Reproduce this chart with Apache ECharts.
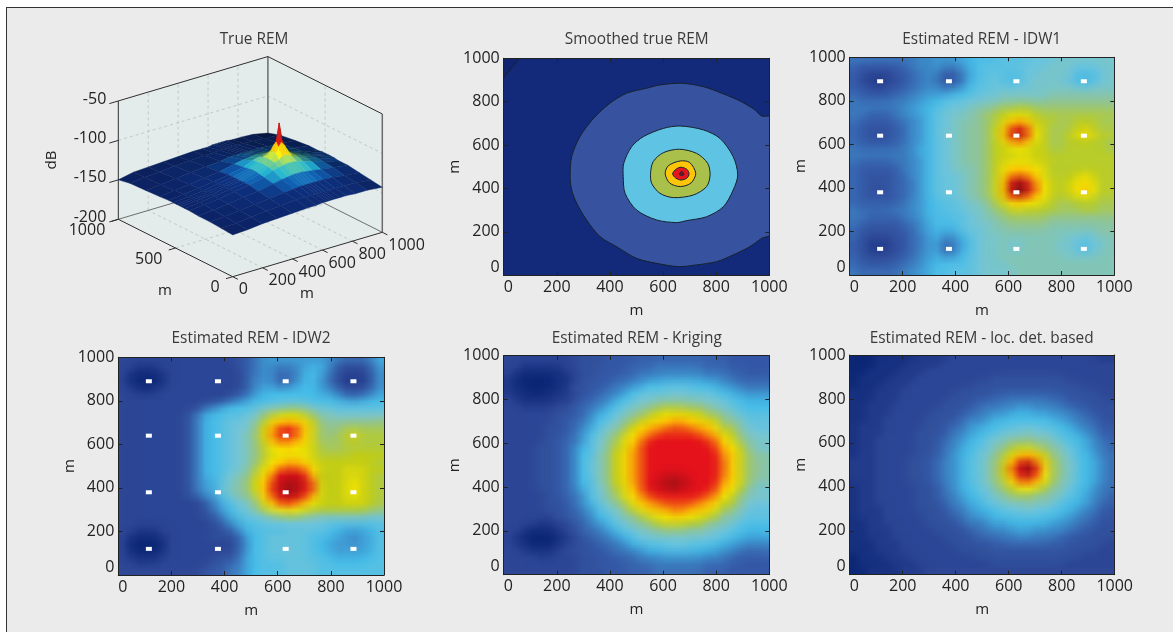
<!DOCTYPE html>
<html><head><meta charset="utf-8">
<style>
html,body{margin:0;padding:0;background:#fff;overflow:hidden}
#frame{position:absolute;left:6px;top:7px;width:1167px;height:625px;background:#ebebeb;border-top:1px solid #333;border-left:1px solid #333;box-sizing:border-box}
#c{position:absolute;left:0;top:0;width:1173px;height:632px}
.heat{position:absolute;width:32px;height:32px;transform-origin:0 0}
</style>
<script src="https://cdn.jsdelivr.net/npm/echarts@6/dist/echarts.min.js"></script>
</head><body><div id="frame"></div><div id="layers"></div><div id="c"></div>
<script>
// ---------- values ----------
var tickValues = [0, 200, 400, 600, 800, 1000];
var sensorX = [115, 375, 630, 885];
var sensorY = [120, 380, 640, 890];

// Map levels, one base-36 digit per cell, top row (y=1000) first, 32 x 32 cells
var idw1Rows = [
"66666666778889abbbccccdddeeeeeee","54444456778778abcccccdddeeedddee","432223456775469bcccccddeeeecccde","421012356763359bcdcbbdeeeedbabde",
"43212345677557accddcddeeeeedcdee","5433345678889abcddeeeeeeffffffff","6555566789abccddeeffffffgggggggg","666666789abcddeffghhiihhhhhhhhhh",
"665556789acdeefghijkkkjiiiiiiiii","654445678acdeffghikmnmkjjiijjjii","543334578acdefgghjlqsqlkiiijkjii","543234578aceefgghjmswsmkiijlnljj",
"543334578acdefgghjlprplkiijjkjji","655555679acdefgghjklmlkkiijjjjji","666666679acdefgghjkkllkkjjjjjjjj","655556678acdefgghjklllkkjjjjjjjj",
"544444678acdeffghjlnnnmljjjjjjjj","543334578acddefghjlpqpnljjjklkjj","543334568acddefghjmsvtpmkjklmljj","543234568acddefghjmuyvrmkjkmomjj",
"543334568acddefghjmsvtpmkjklmljj","544444578abccdefgiknonmljiijjjii","655556678abccdeefhiklkkjjiiijjii","665555678abbccdefghiiiiihhhhhhhh",
"6544445679bbbcdeefghhhhhgggggggg","5433334579aaacddeffgggggffffffgg","5322233568a88acdeeffffffffeedeff","43111235689669bdeefeeffffeedcdef",
"43101235689559bdeefeeffffeedbdef","5322234578a88acdeeffffffffeeeeff","5433345679abbbcdeeefffffffffffff","6555556789bbcccdeeeeffffffffffff"];

var idw2Rows = [
"333333333333334579aaaaaaa987778b","3322233333333345799889abb964446a","3211123333333335799778bcb8533359","3100013333333335899668bca7422249",
"32101233333333358aa88acca8533359","33222333333333469bccccccba85457a","3333333333333579bccddddcccba9abc","3333333333579bccdeffgggfeedddddd",
"3333333346abcddefhjkllkiggffffff","3333333347bcdeefgjmooonlihhhhhhi","3333333347bcdeffhlpstspmjiijjjjj","3333333347bcdefgimqtutpmjijkmkkk",
"3333333347bcdefgilpssrpmjjjklkkk","3333333347bcdefgiknoponmkjjkkkkk","3333333347bcdefgikmnnnnmkkkkllll","3333333347bcdefgiknoppomlllllllk",
"3333333347bcdefgjmorssromllmmmll","3333333347bcdfghknquvvuplllmmmlk","3333333347abdfhilosvwwvsmllmnmlk","3333333347abeghilotvyxvtmllmomlk",
"33333333469adfhikosvwwurmllmnmlk","333333333358bdfgimptutrnmllmmmlk","333333333347acefhknoponmllllllkj","3333333333458bdefgijkkjihhhhhhgg",
"33333333333469bddefffffffeeeeeee","332223333333469cddddeeeeedcbbbcd","321112333334446acdeeeeeddcba9abd","3100013333333359cdeeeeedcbaa9abd",
"3100013333333359cdeefeedcbaaaabd","321112333333446acdeeeeeddcbbbbcd","332223333334567acdddeeeeddccccdd","333333333345578acdddeeeedddddddd"];

var krigingRows = [
"33333333344455556666666666655555","33222223344455566677777766655555","32111112344555667788888877766555","2100001124455667899aaaaa99876666",
"2100001144556789accddddccba98777","211001123456789cdeeeffeeedcba999","3211112235678acdffggggggffedcbbb","332222335678acefghijjjiihgfedccc",
"33333344568acefhijlmmmlljihgeddd","33333345679cdfhikmnopponmlihgeee","3333344568adfgilnpqrssrqpnkjhfee","3333344579cegiknprsttttsrpmligff",
"3333345679dfhjmortuuuuuutsomjhgg","333344568bdfhkmpsuuuuuuuutqoligf","333344568cdgilnqsuuuuuuuuurpmjhh","333344568cegilnqsuuuuuuuuuspmjih",
"333344568cegilnqsuuuuuuuuuspmjih","333344568cegilnqsuuvvvuuuuspmjih","333344568cdgilnqsuvwxwvuuurpmjhh","333344568bdfhkmpsuvwxwvuutqoligf",
"3333345679dfhjmortuuuuuutsomjhgg","3333344579cegiknprsttttsrpmligff","3333344568adfgilnpqrssrqpnkjhfee","33333345679cdfhikmnopponmlihgeee",
"33332233568acefhijlmmmlljihgeddd","332111234678acefghijjjiihgfedccc","3210001235678acdffggggggffedcbbb","321000123456789cdeeeffeeedcba999",
"3321112344556789accddddccba98777","3333223334455667899aaaaa99876666","33333333344555667788888877766555","33333333344455566677777766655555"];

var locDetRows = [
"00011111222233333333333333333322","00011112222333333333333333333333","00111122233333333333333333333333","01111222333333333444444444333333",
"01112223333333344444444444443333","11122233333334444555555555444433","11122233333344455667777766554443","11222333333444567788998887655444",
"1122233333444567899abbaa99876544","11223333344456889bbcccccba987654","122233333445679abcddeeeddcb98755","12223333444578abcdeffgffedcb9865",
"12233333445689bcefghhihhgedcb976","1223333344578acdeghjkkjihgedb986","1223333344579bcefhjlnonlihfdca87","2223333445689bdegikostrnkhgecb97",
"2223333445689bdegilrvyvpkigecb97","2223333445689bdegilquxuokigecb97","2223333445689bdegikostrnkhgecb97","1223333344579bcefhjlnonlihfdca87",
"1223333344578acdeghjkkjihgedb986","12233333445689bcefghhihhgedcb976","12223333444578abcdeffgffedcb9865","122233333445679abcddeeeddcb98755",
"11223333344456889bbcccccba987654","1122233333444567899abbaa99876544","11222333333444567788998887655444","11122233333344455667777766554443",
"11122233333334444555555555444433","01112223333333344444444444443333","01111222333333333444444444333333","00111122233333333333333333333333"];

// Filled contour outlines of the smoothed map, outermost first, [x, y] in metres
var contourBase = [[0,0],[1000,0],[1000,1000],[0,1000]];
var contourCorner = [[0,1000],[0,912],[24,946],[55,995],[60,1000]];
var contourOuter = [[250,455],[256,547],[287,639],[338,723],[400,793],[463,839],[538,862],[588,877],[670,885],[752,869],[827,836],[890,803],[946,762],[971,734],[1010,728],[1010,194],[971,170],[927,132],[864,94],[802,63],[726,48],[657,40],[576,55],[500,78],[425,132],[363,178],[312,255],[275,332],[256,393]];
var contourSky = [[450,455],[452,516],[482,593],[526,639],[601,677],[664,688],[752,670],[814,631],[864,547],[881,462],[864,393],[827,316],[764,270],[689,252],[651,243],[576,255],[500,301],[457,378]];
var contourGreen = [[553,470],[563,524],[601,565],[661,581],[726,562],[768,516],[777,462],[764,409],[714,370],[639,358],[588,378],[557,424]];
var contourYellow = [[608,468],[620,505],[665,527],[700,520],[723,470],[705,425],[665,409],[625,425]];
var contourRed = [[636,468],[650,490],[668,498],[690,488],[698,468],[690,448],[668,439],[648,448]];
var contourPeak = [[662,463],[678,463],[670,480]];

// True REM surface, dB, rows follow surfaceY, columns follow surfaceX
var surfaceX = [0,100,200,300,400,500,560,600,630,650,670,690,720,760,820,900,1000];
var surfaceY = [0,100,200,300,380,420,450,470,490,520,560,640,760,900,1000];
var surfaceZ = [
[-147,-146,-144,-143,-142,-141,-141,-140,-140,-140,-140,-140,-140,-140,-141,-141,-143],
[-146,-145,-143,-141,-140,-138,-138,-138,-138,-138,-138,-138,-138,-138,-138,-139,-141],
[-145,-144,-142,-140,-138,-136,-135,-134,-134,-134,-134,-134,-134,-134,-135,-137,-139],
[-145,-143,-141,-138,-136,-132,-130,-129,-128,-128,-128,-128,-129,-130,-132,-134,-137],
[-144,-142,-140,-137,-134,-130,-125,-123,-122,-121,-121,-121,-122,-124,-128,-133,-137],
[-144,-142,-140,-137,-134,-129,-124,-120,-118,-115,-114,-115,-119,-122,-127,-132,-136],
[-144,-142,-140,-137,-134,-128,-123,-119,-112,-105,-100,-105,-115,-121,-126,-132,-136],
[-144,-142,-140,-137,-134,-128,-123,-119,-111,-100,-77,-100,-114,-121,-126,-132,-136],
[-144,-142,-140,-137,-134,-128,-123,-119,-112,-105,-100,-105,-115,-121,-126,-132,-136],
[-144,-142,-140,-137,-134,-129,-124,-120,-118,-115,-114,-115,-119,-122,-127,-132,-136],
[-144,-142,-140,-137,-134,-130,-125,-123,-122,-121,-121,-121,-122,-124,-128,-133,-137],
[-145,-143,-141,-138,-136,-132,-130,-129,-128,-128,-128,-128,-129,-130,-132,-134,-137],
[-146,-144,-142,-140,-138,-137,-135,-135,-135,-135,-135,-135,-135,-135,-136,-137,-139],
[-147,-145,-144,-142,-141,-140,-140,-139,-139,-139,-139,-139,-139,-139,-140,-141,-142],
[-150,-146,-145,-144,-143,-142,-142,-142,-141,-141,-141,-141,-141,-142,-142,-143,-147]];
var surfaceXTicks = [0,200,400,600,800,1000];
var surfaceYTicks = [0,500,1000];
var surfaceZTicks = [-200,-150,-100,-50];

// ---------- styles ----------
var FONT = '"Open Sans","Noto Sans",sans-serif';
var INK = '#222';
var heatPalette = ['#0d2877','#2f4896','#3a63ae','#3f8fcb','#45bde9','#74c5da','#92c494','#c0cd18','#ffe800','#f8920f','#e5141e','#a81218','#5a1512'];
var contourPalette = ['#13297a','#102572','#37529f','#5fc3e4','#a9c04a','#fdc60a','#e3161f','#7a1a20'];
var surfaceStops = [[0,[10,26,80]],[0.205,[12,42,112]],[0.27,[15,90,165]],[0.34,[34,168,192]],[0.45,[144,200,96]],[0.58,[240,224,0]],[0.685,[248,160,16]],[0.82,[224,32,24]],[1,[144,16,24]]];

function surfaceColor(z, shade){
  var t = Math.min(1, Math.max(0, (z + 150) / 73));
  for (var i = 1; i < surfaceStops.length; i++) if (t <= surfaceStops[i][0]) break;
  var a = surfaceStops[i-1], b = surfaceStops[i], f = (t - a[0]) / (b[0] - a[0]);
  var c = a[1].map(function(v, k){ return Math.round(Math.min(255, (v + (b[1][k] - v) * f) * shade)); });
  return 'rgb(' + c.join(',') + ')';
}
function project(x, y, z){ return [x * 0.1496 - y * 0.1144, x * 0.0444 + y * 0.0574 + (z + 200) * 0.789]; }

var grids = [], xAxes = [], yAxes = [], series = [], titles = [];
var cells = []; for (var k = 0; k < 32; k++) cells.push(String(k));

function addTitle(text, cx, cy){
  titles.push({text: text, left: cx, top: cy - 8, padding: 0, textAlign: 'center',
    textStyle: {fontFamily: FONT, fontSize: 15.4, fontWeight: 'normal', color: '#3a3a3a', lineHeight: 20}});
}
function plain(v){ return String(v); }
function valueX(g, pos){
  var main = pos === 'bottom';
  return {gridIndex: g, type: 'value', position: pos, min: 0, max: 1000, interval: 200, z: 10,
    name: main ? 'm' : '', nameLocation: 'middle', nameGap: 28, nameMoveOverlap: false,
    nameTextStyle: {fontFamily: FONT, fontSize: 15, color: INK},
    axisLine: {onZero: false, lineStyle: {color: '#222', width: 1}},
    axisTick: {show: true, inside: true, length: 4, lineStyle: {color: '#222'}},
    axisLabel: {show: main, formatter: plain, fontFamily: FONT, fontSize: 16, color: INK, margin: 4, alignMinLabel: 'left'},
    splitLine: {show: false}};
}
function valueY(g, pos){
  var main = pos === 'left';
  return {gridIndex: g, type: 'value', position: pos, min: 0, max: 1000, interval: 200, z: 10,
    name: main ? 'm' : '', nameLocation: 'middle', nameGap: 41, nameMoveOverlap: false,
    nameTextStyle: {fontFamily: FONT, fontSize: 15, color: INK},
    axisLine: {onZero: false, lineStyle: {color: '#222', width: 1}},
    axisTick: {show: true, inside: true, length: 4, lineStyle: {color: '#222'}},
    axisLabel: {show: main, formatter: plain, fontFamily: FONT, fontSize: 16, color: INK, margin: 4, verticalAlignMinLabel: 'bottom'},
    splitLine: {show: false}};
}
// Each map is a heatmap series in its own one-pixel-per-cell chart, shown scaled to the panel
function addHeat(rect, rows, scale){
  var el = document.createElement('div');
  el.className = 'heat';
  el.style.left = rect[0] + 'px';
  el.style.top = rect[1] + 'px';
  el.style.transform = 'scale(' + ((rect[2] - rect[0]) / 32) + ',' + ((rect[3] - rect[1]) / 32) + ')';
  document.getElementById('layers').appendChild(el);
  var data = [];
  rows.forEach(function(row, r){
    Array.from(row).forEach(function(ch, c){ data.push([c, rows.length - 1 - r, parseInt(ch, 36)]); });
  });
  var inst = echarts.init(el, null, {renderer: 'canvas', width: 32, height: 32, devicePixelRatio: 1});
  inst.setOption({
    animation: false,
    grid: {left: 0, right: 0, top: 0, bottom: 0},
    xAxis: {type: 'category', data: cells, show: false},
    yAxis: {type: 'category', data: cells, show: false},
    visualMap: {type: 'continuous', show: false, min: scale[0], max: scale[1], inRange: {color: heatPalette}},
    series: [{type: 'heatmap', data: data, silent: true, progressive: 0}]
  });
}
function addPanel(rect, rows, sensors, extra, scale){
  var g = grids.length;
  grids.push({left: rect[0], top: rect[1], width: rect[2] - rect[0], height: rect[3] - rect[1]});
  var xi = xAxes.length, yi = yAxes.length;
  xAxes.push(valueX(g, 'bottom'), valueX(g, 'top'));
  yAxes.push(valueY(g, 'left'), valueY(g, 'right'));
  if (rows) addHeat(rect, rows, scale || [0, 36]);
  if (sensors) {
    var pts = [];
    sensorX.forEach(function(x){ sensorY.forEach(function(y){ pts.push([x, y]); }); });
    series.push({type: 'scatter', xAxisIndex: xi, yAxisIndex: yi, data: pts, symbol: 'rect', symbolSize: [6, 4],
      itemStyle: {color: '#fff', opacity: 1}, silent: true, z: 5, animation: false});
  }
  if (extra) extra(xi, yi);
}

// ---------- 3D panel: hidden screen-scale axes, marks are placed by api.coord ----------
(function(){
  var g = grids.length, xi = xAxes.length, yi = yAxes.length;
  grids.push({left: 118.3, top: 58.3, width: 264, height: 218.4});
  xAxes.push({gridIndex: g, type: 'value', min: -114.4, max: 149.6, show: false});
  yAxes.push({gridIndex: g, type: 'value', min: 0, max: 218.4, show: false});
  var P = function(api, x, y, z){ return api.coord(project(x, y, z)); };
  function seg(api, a, b, color, w, dash){
    var p = P(api, a[0], a[1], a[2]), q = P(api, b[0], b[1], b[2]);
    return {type: 'line', shape: {x1: p[0], y1: p[1], x2: q[0], y2: q[1]}, style: {stroke: color, lineWidth: w, lineDash: dash || null}};
  }
  function poly(api, pts, fill){
    return {type: 'polygon', shape: {points: pts.map(function(a){ return P(api, a[0], a[1], a[2]); })}, style: {fill: fill}};
  }
  function label(api, a, dx, dy, text, align){
    var p = P(api, a[0], a[1], a[2]);
    return {type: 'text', style: {x: p[0] + dx, y: p[1] + dy, text: text, fill: INK, font: '16px ' + FONT, align: align, verticalAlign: 'middle'}};
  }
  series.push({type: 'custom', xAxisIndex: xi, yAxisIndex: yi, data: [0], silent: true, z: 2, animation: false, clip: false,
    renderItem: function(params, api){
      var ch = [], zMin = -200, zMax = -50, M = 1000, wall = '#e3ecea', grid = '#c2c8c6', dk = '#2e2e2e', gr = '#6c6c6c';
      ch.push(poly(api, [[0,M,zMin],[M,M,zMin],[M,M,zMax],[0,M,zMax]], wall));
      ch.push(poly(api, [[M,0,zMin],[M,M,zMin],[M,M,zMax],[M,0,zMax]], wall));
      ch.push(poly(api, [[0,0,zMin],[M,0,zMin],[M,M,zMin],[0,M,zMin]], wall));
      var d = [3, 3];
      surfaceXTicks.forEach(function(t){ if (t > 0 && t < M) {
        ch.push(seg(api, [t,0,zMin], [t,M,zMin], grid, 1, d));
        ch.push(seg(api, [t,M,zMin], [t,M,zMax], grid, 1, d));
      }});
      surfaceYTicks.forEach(function(t){ if (t > 0 && t < M) {
        ch.push(seg(api, [0,t,zMin], [M,t,zMin], grid, 1, d));
        ch.push(seg(api, [M,t,zMin], [M,t,zMax], grid, 1, d));
      }});
      surfaceZTicks.forEach(function(t){ if (t > zMin && t < zMax) {
        ch.push(seg(api, [0,M,t], [M,M,t], grid, 1, d));
        ch.push(seg(api, [M,M,t], [M,0,t], grid, 1, d));
      }});
      ch.push(seg(api, [0,M,zMin], [M,M,zMin], gr, 1));
      ch.push(seg(api, [M,0,zMin], [M,M,zMin], gr, 1));
      ch.push(seg(api, [M,M,zMin], [M,M,zMax], gr, 1.5));
      ch.push(seg(api, [M,0,zMin], [M,0,zMax], gr, 1.5));
      ch.push(seg(api, [0,M,zMax], [M,M,zMax], dk, 1));
      ch.push(seg(api, [M,M,zMax], [M,0,zMax], dk, 1));
      ch.push(seg(api, [0,M,zMin], [0,M,zMax], dk, 1));
      ch.push(seg(api, [0,0,zMin], [M,0,zMin], dk, 1));
      ch.push(seg(api, [0,0,zMin], [0,M,zMin], dk, 1));
      surfaceXTicks.forEach(function(t){
        ch.push(seg(api, [t,0,zMin], [t,-45,zMin], dk, 1));
        ch.push(label(api, [t,0,zMin], 6, 13, String(t), 'left'));
      });
      surfaceYTicks.forEach(function(t){
        ch.push(seg(api, [0,t,zMin], [-45,t,zMin], dk, 1));
        ch.push(label(api, [0,t,zMin], -13, 11, String(t), 'right'));
      });
      surfaceZTicks.forEach(function(t){
        ch.push(seg(api, [0,M,t], [-60,M,t], dk, 1));
        ch.push(label(api, [0,M,t], -12, -2, String(t), 'right'));
      });
      return {type: 'group', children: ch};
    }});
  var quads = [];
  for (var i = surfaceX.length - 2; i >= 0; i--) for (var j = surfaceY.length - 2; j >= 0; j--) quads.push([i, j]);
  series.push({type: 'custom', xAxisIndex: xi, yAxisIndex: yi, data: quads, silent: true, z: 3, animation: false, clip: false,
    renderItem: function(params, api){
      var i = api.value(0), j = api.value(1);
      var x0 = surfaceX[i], x1 = surfaceX[i+1], y0 = surfaceY[j], y1 = surfaceY[j+1];
      var a = surfaceZ[j][i], b = surfaceZ[j][i+1], c = surfaceZ[j+1][i+1], e = surfaceZ[j+1][i];
      var gx = ((b + c) - (a + e)) / 2 / (x1 - x0), gy = ((e + c) - (a + b)) / 2 / (y1 - y0);
      var shade = Math.max(0.4, Math.min(1.1, 1 + 6 * (gx + gy)));
      var fill = surfaceColor(((a + b + c + e) / 4 + Math.max(a, b, c, e)) / 2, shade);
      var pts = [[x0,y0,a],[x1,y0,b],[x1,y1,c],[x0,y1,e]].map(function(p){ return api.coord(project(p[0], p[1], p[2])); });
      return {type: 'polygon', shape: {points: pts}, style: {fill: fill, stroke: fill, lineWidth: 0.4}};
    }});
  series.push({type: 'custom', xAxisIndex: xi, yAxisIndex: yi, data: [0], silent: true, z: 4, animation: false, clip: false,
    renderItem: function(params, api){
      return {type: 'group', children: [
        {type: 'text', x: 52, y: 160, rotation: Math.PI / 2, style: {x: 0, y: 0, text: 'dB', fill: INK, font: '15px ' + FONT, align: 'center', verticalAlign: 'middle'}},
        {type: 'text', style: {x: 165, y: 291, text: 'm', fill: INK, font: '15px ' + FONT, align: 'center', verticalAlign: 'middle'}},
        {type: 'text', style: {x: 307, y: 294, text: 'm', fill: INK, font: '15px ' + FONT, align: 'center', verticalAlign: 'middle'}}
      ]};
    }});
})();
addTitle('True REM', 254, 38);

// ---------- 2D panels ----------
addTitle('Smoothed true REM', 636.7, 38);
addPanel([503.7, 58.3, 769.3, 275.3], null, false, function(xi, yi){
  var regions = [contourBase, contourCorner, contourOuter, contourSky, contourGreen, contourYellow, contourRed, contourPeak];
  series.push({type: 'custom', xAxisIndex: xi, yAxisIndex: yi, data: regions.map(function(r, i){ return i; }), silent: true, z: 2, animation: false, clip: true,
    renderItem: function(params, api){
      var i = params.dataIndex;
      var pts = regions[i].map(function(p){ return api.coord(p); });
      return {type: 'polygon', shape: {points: pts, smooth: i > 1 ? 0.3 : 0},
        style: {fill: contourPalette[i], stroke: i === 0 ? 'none' : '#16232e', lineWidth: 1}};
    }});
});
addTitle('Estimated REM - IDW1', 981.7, 38);
addPanel([849.7, 57.3, 1114.3, 275], idw1Rows, true, null, [-1.5, 34.5]);
addTitle('Estimated REM - IDW2', 251, 337);
addPanel([118.3, 357.3, 384, 575], idw2Rows, true);
addTitle('Estimated REM - Kriging', 636.7, 337);
addPanel([503.7, 355.7, 769.3, 574.7], krigingRows, false);
addTitle('Estimated REM - loc. det. based', 981.7, 337);
addPanel([849.7, 355, 1114.7, 574.7], locDetRows, false);

var chart = echarts.init(document.getElementById('c'), null, {renderer: 'canvas'});
chart.setOption({
  animation: false,
  backgroundColor: 'transparent',
  title: titles,
  grid: grids,
  xAxis: xAxes,
  yAxis: yAxes,
  series: series
});
</script></body></html>
